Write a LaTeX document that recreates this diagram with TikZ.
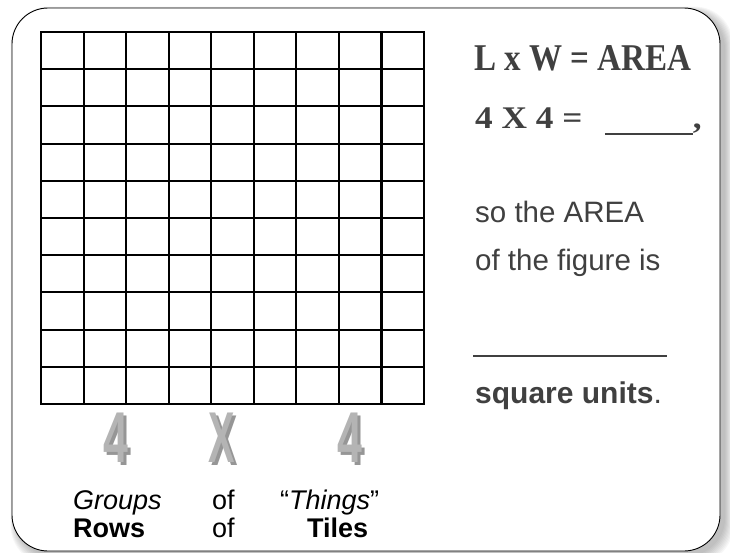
\documentclass[tikz,border=0pt]{standalone}
\usepackage{fontspec}
\setmainfont{Liberation Sans}
\newfontfamily\headfont{Liberation Serif}
\usetikzlibrary{positioning}
\definecolor{textgray}{RGB}{64,64,64}
\definecolor{digitgray}{RGB}{180,180,180}
\definecolor{digitshade}{RGB}{150,150,150}
\newcommand{\shadedglyph}[2]{\makebox[0pt][l]{\hspace{2.5pt}\raisebox{-2.5pt}{\textcolor{digitshade}{\scalebox{#1}[1]{#2}}}}\scalebox{#1}[1]{#2}}
\tikzset{
    cardframe/.style={draw=black, line width=0.9pt, fill=white, rounded corners=36pt},
    cardshade/.style={fill=black, opacity=0.03, rounded corners=38pt},
    gridline/.style={black, line width=2.1pt, line cap=rect},
    headtext/.style={anchor=base west, inner sep=0pt, text=textgray, font=\headfont\bfseries\fontsize{#1}{#1}\selectfont},
    sidetext/.style={anchor=base west, inner sep=0pt, text=textgray, font=\fontsize{29.5}{29.5}\selectfont},
    digit/.style={inner sep=0pt, text=digitgray, font=\bfseries\fontsize{72}{72}\selectfont},
    wordlabel/.style={anchor=base west, inner sep=0pt, text=black, font=\fontsize{27}{27}\selectfont}
}

\begin{document}
\begin{tikzpicture}[x=1pt, y=-1pt]
\useasboundingbox (0,0) rectangle (730,552);

% card with soft shadow
\foreach \k in {1,...,9}
    \fill[cardshade] (16-\k*0.6,12-\k*0.6) rectangle (724+\k,555+\k);
\draw[cardframe] (12,8) rectangle (720,551);

% 9 x 10 grid
\foreach \i in {0,...,9}
    \draw[gridline] (41+\i*42.56,32) -- (41+\i*42.56,404);
\foreach \j in {0,...,10}
    \draw[gridline] (41,32+\j*37.2) -- (424,32+\j*37.2);

\node[headtext=37.8] (formula) at (474,70) {\scalebox{0.875}[1]{L x W = AREA}};
\node[headtext=31.5] (product) at (475,128) {\scalebox{1.12}[1]{4 X 4 =\hspace{20pt}\rule[-7pt]{78.6pt}{2.2pt},}};
\node[sidetext] (sothe) at (475,222) {so the AREA};
\node[sidetext] (figure) at (475,270) {of the figure is};
\node[sidetext] (blank) at (473,357) {\rule{194pt}{2.4pt}};
\node[sidetext] (units) at (475,403) {\fontsize{30}{30}\selectfont\textbf{square units}.};

\node[digit] (rowsnum) at (116,439) {\shadedglyph{0.62}{4}};
\node[digit] (times) at (222,439) {\shadedglyph{0.55}{X}};
\node[digit] (tilesnum) at (350,439) {\shadedglyph{0.62}{4}};

\node[wordlabel] (groups) at (73,509) {\itshape Groups};
\node[wordlabel] (of1) at (212,509) {of};
\node[wordlabel] (things) at (280,509) {“\textit{Things}”};
\node[wordlabel] (rows) at (73,537) {\bfseries Rows};
\node[wordlabel] (of2) at (212,537) {of};
\node[wordlabel] (tiles) at (307,537) {\bfseries Tiles};

\end{tikzpicture}
\end{document}
